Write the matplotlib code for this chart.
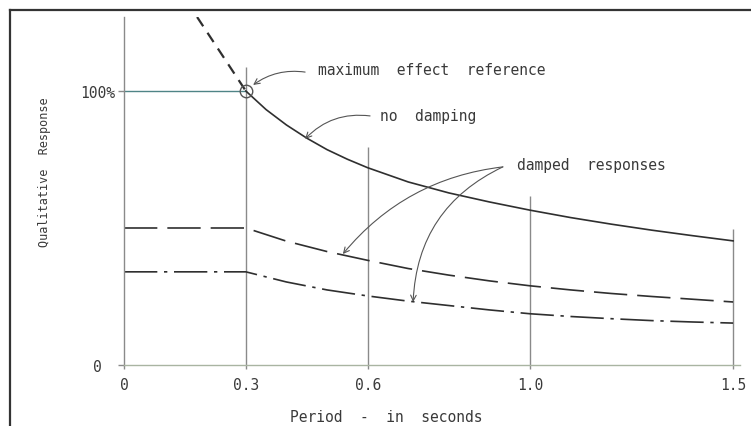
import matplotlib
matplotlib.use("Agg")
import matplotlib.pyplot as plt
from matplotlib.lines import Line2D

# ---------------- data ----------------
x_ticks = [0, 0.3, 0.6, 1.0, 1.5]
x_tick_labels = ["0", "0.3", "0.6", "1.0", "1.5"]
y_ticks = [0, 100]
y_tick_labels = ["0", "100%"]

grid_x = [0.3, 0.6, 1.0, 1.5]
grid_top = [108.8, 79.6, 61.7, 49.6]

ref_x = [0, 0.3]
ref_y = [100, 100]

# undamped response, extended (dashed) part for short periods
upper_T = [0.18, 0.22, 0.26, 0.3]
upper_R = [127, 118, 109, 100]

# no damping (solid)
nd_T = [0.3, 0.35, 0.4, 0.45, 0.5, 0.55, 0.6, 0.7, 0.8, 0.9, 1.0, 1.1, 1.2, 1.3, 1.4, 1.5]
nd_R = [100, 93.2, 87.6, 82.8, 78.6, 75.1, 72.0, 66.8, 62.8, 59.5, 56.5, 53.8, 51.4, 49.2, 47.2, 45.3]

# damped response 1 (dashed)
d1_T = [0, 0.3, 0.4, 0.5, 0.6, 0.7, 0.8, 0.9, 1.0, 1.1, 1.2, 1.3, 1.4, 1.5]
d1_R = [50, 50, 45.2, 41.4, 38.2, 35.2, 32.8, 30.7, 28.9, 27.4, 26.1, 25.0, 24.0, 23.0]

# damped response 2 (dash-dot)
d2_T = [0, 0.3, 0.4, 0.5, 0.6, 0.7, 0.8, 0.9, 1.0, 1.1, 1.2, 1.3, 1.4, 1.5]
d2_R = [34, 34, 30.3, 27.4, 25.2, 23.3, 21.7, 20.1, 18.7, 17.7, 16.9, 16.2, 15.7, 15.3]

# ---------------- figure ----------------
W, H = 751, 427
fig = plt.figure(figsize=(W / 100, H / 100), dpi=100)
fig.patch.set_facecolor("white")

ax = fig.add_axes([124 / W, (H - 366) / H, 616 / W, 348 / H])
ax.set_xlim(0, 1.517)
ax.set_ylim(0, 127)
ax.set_facecolor("white")

FONT = "DejaVu Sans Mono"
TXT = "#3a3a3a"
GRID = "#8a8a8a"
CURVE = "#2f2f2f"
FS = 10.5

for s in ["top", "right"]:
    ax.spines[s].set_visible(False)
ax.spines["left"].set_color(GRID)
ax.spines["left"].set_linewidth(1.0)
ax.spines["bottom"].set_color("#a9b4a2")
ax.spines["bottom"].set_linewidth(1.0)

ax.set_xticks(x_ticks)
ax.set_xticklabels(x_tick_labels, fontfamily=FONT, fontsize=FS, color=TXT)
ax.set_yticks(y_ticks)
ax.set_yticklabels(y_tick_labels, fontfamily=FONT, fontsize=FS, color=TXT)
ax.tick_params(axis="x", length=3, width=1, color=GRID, pad=6)
ax.tick_params(axis="y", length=4, width=1, color=GRID, pad=2)
ax.yaxis.get_major_ticks()[0].set_pad(12)

# vertical reference lines
ax.vlines(grid_x, 0, grid_top, colors=GRID, linewidth=1.0)

# 100% reference line
ax.plot(ref_x, ref_y, color="#4f8486", linewidth=1.0)

# curves
ax.plot(upper_T, upper_R, color=CURVE, linewidth=1.6, dashes=(5, 3.5))
ax.plot(nd_T, nd_R, color=CURVE, linewidth=1.2)
ax.plot(d1_T, d1_R, color=CURVE, linewidth=1.2, dashes=(20, 6))
ax.plot(d2_T, d2_R, color=CURVE, linewidth=1.2, dashes=(20, 4, 2, 4))

# maximum effect circle
ax.plot([0.3], [100], marker="o", markersize=9, markerfacecolor="none",
        markeredgecolor="#555555", markeredgewidth=1.0)

# annotations
arrow_kw = dict(arrowstyle="->", color="#555555", lw=0.8, shrinkA=0, shrinkB=0)
tkw = dict(fontfamily=FONT, fontsize=FS, color=TXT, va="center", ha="left")

ax.text(0.478, 108, "maximum  effect  reference", **tkw)
ax.annotate("", xy=(0.318, 102.2), xytext=(0.446, 106.9),
            arrowprops=dict(connectionstyle="arc3,rad=0.2", **arrow_kw))

ax.text(0.63, 90.9, "no  damping", **tkw)
ax.annotate("", xy=(0.446, 82.5), xytext=(0.606, 90.9),
            arrowprops=dict(connectionstyle="arc3,rad=0.25", **arrow_kw))

ax.text(0.968, 73, "damped  responses", **tkw)
ax.annotate("", xy=(0.539, 40.5), xytext=(0.933, 72.3),
            arrowprops=dict(connectionstyle="arc3,rad=0.2", **arrow_kw))
ax.annotate("", xy=(0.712, 23.0), xytext=(0.933, 72.3),
            arrowprops=dict(connectionstyle="arc3,rad=0.3", **arrow_kw))

# axis titles
fig.text(386 / W, 1 - 418 / H, "Period  -  in  seconds", fontfamily=FONT,
         fontsize=FS, color=TXT, ha="center", va="center")
fig.text(45 / W, 1 - 172 / H, "Qualitative  Response", fontfamily=FONT,
         fontsize=8.5, color=TXT, ha="center", va="center", rotation=90)

# outer frame (top and left only)
fig.add_artist(Line2D([10 / W, 1.0], [1 - 11 / H, 1 - 11 / H], color="#333333", linewidth=1.6))
fig.add_artist(Line2D([10 / W, 10 / W], [1 - 11 / H, 0], color="#333333", linewidth=1.6))

fig.savefig("out.png", dpi=100, facecolor="white")
